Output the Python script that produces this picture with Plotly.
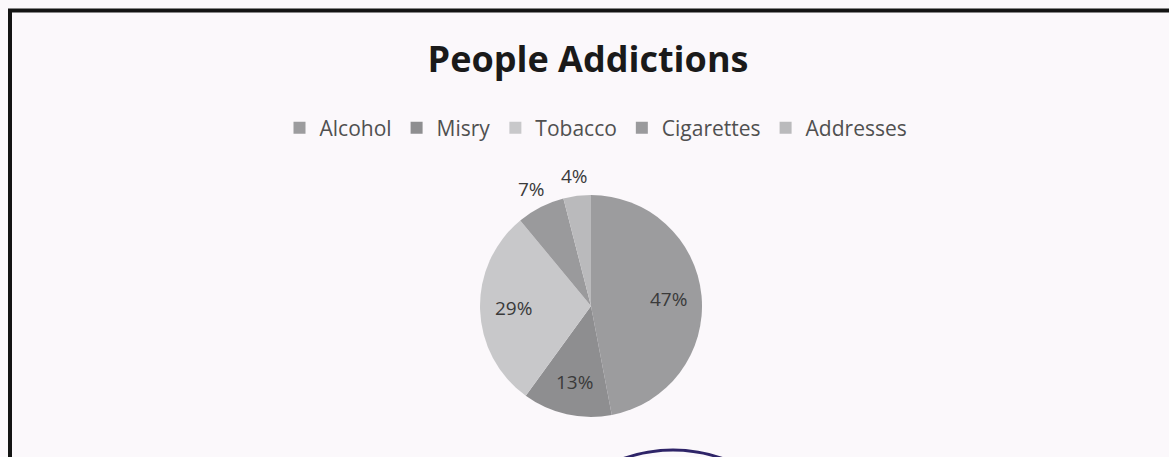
import math
import plotly.graph_objects as go

# Share of each addiction (percent)
categories = ["Alcohol", "Misry", "Tobacco", "Cigarettes", "Addresses"]
shares = [47, 13, 29, 7, 4]
slice_colors = ["#9c9c9e", "#8e8e90", "#c8c8ca", "#9a9a9c", "#bababc"]

W, H = 1169, 457
cx, cy, r = 591, 306, 111  # pie centre and radius in pixels
LABEL_FONT = dict(family="Open Sans", size=19, color="#3a3a3a")

fig = go.Figure(
    go.Pie(
        labels=categories,
        values=shares,
        sort=False,
        direction="clockwise",
        rotation=0,
        marker=dict(colors=slice_colors, line=dict(width=0)),
        textinfo="none",
        hoverinfo="label+percent",
        domain=dict(
            x=[(cx - r) / W, (cx + r) / W],
            y=[(H - cy - r) / H, (H - cy + r) / H],
        ),
    )
)

# Percentage labels: big slices labelled inside, small ones just outside the rim
total = sum(shares)
annotations = []
start = 0.0
for name, v in zip(categories, shares):
    mid = (start + v / 2) / total * 2 * math.pi  # clockwise from 12 o'clock
    start += v
    frac = 0.7 if v / total >= 0.1 else 1.18
    px = cx + frac * r * math.sin(mid)
    py = cy - frac * r * math.cos(mid)
    annotations.append(dict(
        x=px / W, y=1 - py / H, xref="paper", yref="paper",
        text=f"{v}%", showarrow=False, font=LABEL_FONT,
        xanchor="center", yanchor="middle",
    ))

fig.update_layout(
    width=W,
    height=H,
    margin=dict(l=0, r=0, t=0, b=0),
    paper_bgcolor="#fbf8fb",
    plot_bgcolor="#fbf8fb",
    title=dict(
        text="<b>People Addictions</b>",
        x=588 / W,
        xanchor="center",
        y=1 - 59 / H,
        yanchor="middle",
        font=dict(family="Open Sans", size=36, color="#1a1a1a"),
    ),
    legend=dict(
        orientation="h",
        x=596 / W,
        xanchor="center",
        y=1 - 128 / H,
        yanchor="middle",
        font=dict(family="Open Sans", size=21, color="#505050"),
        itemwidth=30,
        bgcolor="rgba(0,0,0,0)",
    ),
    annotations=annotations,
    shapes=[
        # outer frame of the figure box
        dict(type="rect", xref="paper", yref="paper",
             x0=10 / W, x1=1180 / W, y0=-0.2, y1=1 - 10.5 / H,
             line=dict(color="#141414", width=4)),
        # stamp edge peeking in at the bottom
        dict(type="circle", xref="paper", yref="paper",
             x0=525 / W, x1=821 / W, y0=1 - 746 / H, y1=1 - 450 / H,
             line=dict(color="#2e2468", width=3)),
    ],
)

fig.write_html("out.html")
